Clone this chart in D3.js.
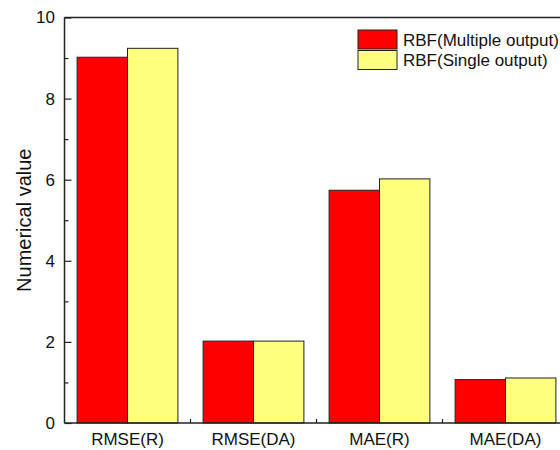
<!DOCTYPE html>
<html>
<head>
<meta charset="utf-8">
<script src="https://cdn.jsdelivr.net/npm/d3@7"></script>
<style>
  html, body { margin: 0; padding: 0; background: #fff; }
  svg { display: block; font-family: Arial, "Liberation Sans", sans-serif; }
</style>
</head>
<body>
<svg id="chart" width="560" height="450"></svg>
<script>
// Error metrics compared for the two RBF network variants
const categories = ["RMSE(R)", "RMSE(DA)", "MAE(R)", "MAE(DA)"];
const seriesNames = ["RBF(Multiple output)", "RBF(Single output)"];
const multipleOutput = [9.02, 2.02, 5.74, 1.07];
const singleOutput = [9.24, 2.02, 6.02, 1.11];
const yMajorTicks = [0, 2, 4, 6, 8, 10];
const yMinorTicks = [1, 3, 5, 7, 9];
const seriesColors = ["#ff0000", "#ffff80"];

const svg = d3.select("#chart");
const plot = { left: 64.5, right: 568.5, top: 17.5, bottom: 423 };

const x = d3.scaleBand().domain(categories).range([plot.left, plot.right]).padding(0);
const xInner = d3.scaleBand().domain(seriesNames)
  .range([x.bandwidth() * 0.1, x.bandwidth() * 0.9]).padding(0);
const y = d3.scaleLinear().domain([0, 10]).range([plot.bottom, plot.top]);

const rows = categories.map((c, i) => ({
  category: c,
  values: [multipleOutput[i], singleOutput[i]]
}));

// Bars
const groups = svg.append("g").selectAll("g")
  .data(rows).join("g")
  .attr("transform", d => `translate(${x(d.category)},0)`);

groups.selectAll("rect")
  .data(d => d.values.map((v, k) => ({ name: seriesNames[k], value: v, k })))
  .join("rect")
  .attr("x", d => xInner(d.name))
  .attr("y", d => y(d.value))
  .attr("width", xInner.bandwidth())
  .attr("height", d => y(0) - y(d.value))
  .attr("fill", d => seriesColors[d.k])
  .attr("stroke", "#222")
  .attr("stroke-width", 1);

// Y axis: major ticks point inward, labelled
const yAxis = svg.append("g")
  .attr("transform", `translate(${plot.left},0)`)
  .call(d3.axisLeft(y).tickValues(yMajorTicks).tickSize(-7).tickPadding(9.5).tickFormat(d3.format("d")));
yAxis.select(".domain").remove();
yAxis.selectAll("line").attr("stroke", "#222").attr("stroke-width", 1.2);
yAxis.selectAll("text").attr("font-size", 17).attr("fill", "#111");

// Y minor ticks
const yMinor = svg.append("g")
  .attr("transform", `translate(${plot.left},0)`)
  .call(d3.axisLeft(y).tickValues(yMinorTicks).tickSize(-4).tickFormat(""));
yMinor.select(".domain").remove();
yMinor.selectAll("line").attr("stroke", "#222").attr("stroke-width", 1.2);

// X axis labels (no visible ticks at the category centres)
const xAxis = svg.append("g")
  .attr("transform", `translate(0,${plot.bottom})`)
  .call(d3.axisBottom(x).tickSize(0).tickPadding(10));
xAxis.select(".domain").remove();
xAxis.selectAll("text").attr("font-size", 17).attr("fill", "#111");

// X minor ticks on the boundaries between categories
const boundaries = categories.slice(1).map(c => x(c));
svg.append("g").selectAll("line")
  .data(boundaries).join("line")
  .attr("x1", d => d).attr("x2", d => d)
  .attr("y1", plot.bottom).attr("y2", plot.bottom - 4)
  .attr("stroke", "#222").attr("stroke-width", 1.2);

// Frame lines: left, bottom, top
const frame = svg.append("g").attr("stroke", "#222").attr("stroke-width", 1.5).attr("fill", "none");
frame.append("line").attr("x1", plot.left).attr("x2", plot.left).attr("y1", plot.top).attr("y2", plot.bottom);
frame.append("line").attr("x1", plot.left).attr("x2", plot.right).attr("y1", plot.bottom).attr("y2", plot.bottom);
frame.append("line").attr("x1", plot.left).attr("x2", plot.right).attr("y1", plot.top).attr("y2", plot.top);

// Y axis title
svg.append("text")
  .attr("transform", `translate(31,${(plot.top + plot.bottom) / 2}) rotate(-90)`)
  .attr("text-anchor", "middle")
  .attr("font-size", 20)
  .attr("fill", "#111")
  .text("Numerical value");

// Legend
const legend = svg.append("g").attr("transform", "translate(358,30)");
const items = legend.selectAll("g").data(seriesNames).join("g")
  .attr("transform", (d, i) => `translate(0,${i * 20.5})`);
items.append("rect")
  .attr("width", 39).attr("height", 19)
  .attr("fill", (d, i) => seriesColors[i])
  .attr("stroke", "#222").attr("stroke-width", 1);
items.append("text")
  .attr("x", 45).attr("y", 10).attr("dy", "0.35em")
  .attr("font-size", 17).attr("fill", "#111")
  .text(d => d);
</script>
</body>
</html>
